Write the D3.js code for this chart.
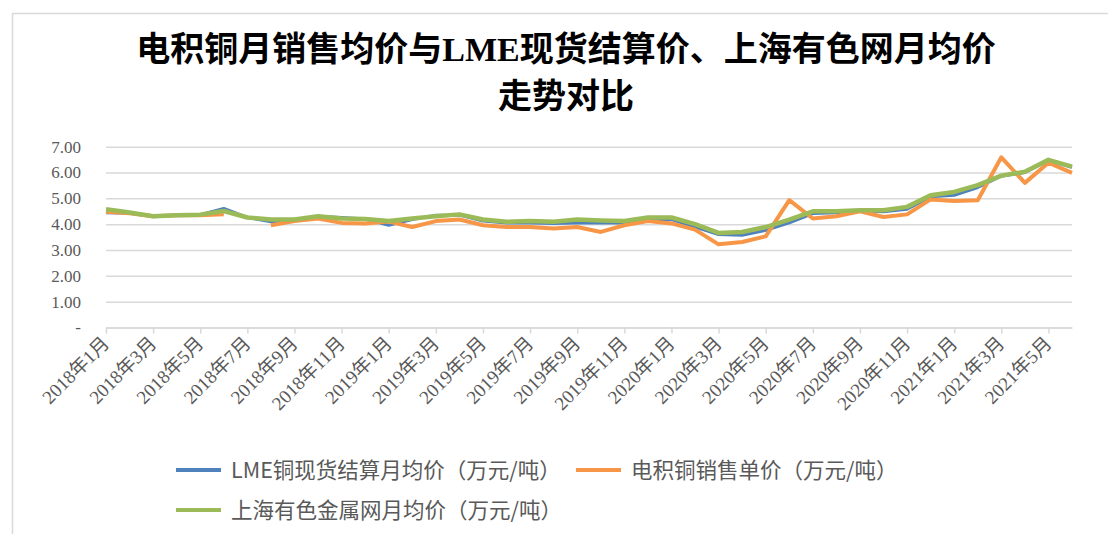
<!DOCTYPE html>
<html>
<head>
<meta charset="utf-8">
<script src="https://cdn.jsdelivr.net/npm/d3@7"></script>
<style>
  body { margin: 0; background: #fff; }
  svg { display: block; }
</style>
</head>
<body>
<script>
const months = [
  "2018年1月", "2018年2月", "2018年3月", "2018年4月", "2018年5月", "2018年6月",
  "2018年7月", "2018年8月", "2018年9月", "2018年10月", "2018年11月", "2018年12月",
  "2019年1月", "2019年2月", "2019年3月", "2019年4月", "2019年5月", "2019年6月",
  "2019年7月", "2019年8月", "2019年9月", "2019年10月", "2019年11月", "2019年12月",
  "2020年1月", "2020年2月", "2020年3月", "2020年4月", "2020年5月", "2020年6月",
  "2020年7月", "2020年8月", "2020年9月", "2020年10月", "2020年11月", "2020年12月",
  "2021年1月", "2021年2月", "2021年3月", "2021年4月", "2021年5月", "2021年6月"
];

// LME铜现货结算月均价（万元/吨）
const lme = [
  4.44, 4.42, 4.31, 4.35, 4.37, 4.61, 4.26, 4.09, 4.15, 4.31, 4.26, 4.20,
  3.96, 4.18, 4.35, 4.35, 4.12, 4.05, 4.05, 4.03, 4.05, 4.05, 4.05, 4.15,
  4.18, 3.89, 3.60, 3.57, 3.76, 4.05, 4.41, 4.44, 4.52, 4.48, 4.58, 5.06,
  5.12, 5.42, 5.86, 6.00, 6.46, 6.20
];

// 电积铜销售单价（万元/吨），2018年7月无数据
const sales = [
  4.48, 4.42, 4.31, 4.35, 4.35, 4.38, null, 3.96, 4.12, 4.22, 4.05, 4.03,
  4.10, 3.89, 4.12, 4.18, 3.96, 3.89, 3.89, 3.83, 3.89, 3.70, 3.96, 4.12,
  4.03, 3.79, 3.22, 3.31, 3.53, 4.93, 4.22, 4.31, 4.50, 4.28, 4.38, 4.96,
  4.90, 4.93, 6.59, 5.60, 6.38, 5.99
];

// 上海有色金属网月均价（万元/吨）
const smm = [
  4.58, 4.45, 4.31, 4.35, 4.37, 4.51, 4.26, 4.18, 4.18, 4.31, 4.22, 4.20,
  4.12, 4.22, 4.31, 4.38, 4.18, 4.09, 4.12, 4.09, 4.18, 4.14, 4.12, 4.26,
  4.26, 4.00, 3.66, 3.70, 3.89, 4.18, 4.50, 4.50, 4.54, 4.54, 4.67, 5.12,
  5.25, 5.51, 5.88, 6.03, 6.49, 6.23
];

const yTicks = [0, 1, 2, 3, 4, 5, 6, 7];

const series = [
  { name: "LME铜现货结算月均价（万元/吨）", values: lme, color: "#4f81bd", width: 3 },
  { name: "电积铜销售单价（万元/吨）", values: sales, color: "#f79646", width: 4 },
  { name: "上海有色金属网月均价（万元/吨）", values: smm, color: "#9bbb59", width: 4.5 }
];

const width = 1108,
  height = 534;

const plot = { left: 106, right: 1072, top: 146.7, bottom: 327.5 };

const svg = d3.select("body")
  .append("svg")
    .attr("width", width)
    .attr("height", height);

// chart frame
svg.append("rect")
    .attr("x", 12.5)
    .attr("y", 13.5)
    .attr("width", width)
    .attr("height", height)
    .attr("fill", "none")
    .attr("stroke", "#d9d9d9")
    .attr("stroke-width", 1.5);

// title
const title = svg.append("text")
    .attr("text-anchor", "middle")
    .attr("font-family", "'Liberation Serif', 'Noto Sans CJK SC', serif")
    .attr("font-weight", "bold")
    .attr("font-size", 34)
    .attr("fill", "#000");

title.append("tspan").attr("x", 566).attr("y", 61).text("电积铜月销售均价与LME现货结算价、上海有色网月均价");
title.append("tspan").attr("x", 566).attr("y", 108).text("走势对比");

const x = d3.scalePoint()
  .domain(months)
  .range([plot.left, plot.right]);

const y = d3.scaleLinear()
  .domain([0, 7])
  .range([plot.bottom, plot.top]);

// y axis with gridlines
const yAxis = svg.append("g")
    .attr("transform", "translate(" + plot.left + ",0)")
    .call(d3.axisLeft(y)
      .tickValues(yTicks)
      .tickSize(-(plot.right - plot.left))
      .tickPadding(25)
      .tickFormat(d => d === 0 ? "-" : d.toFixed(2)));

yAxis.select(".domain").remove();
yAxis.selectAll(".tick line")
    .attr("stroke", "#d9d9d9")
    .attr("stroke-width", 1.5);
yAxis.selectAll(".tick text")
    .attr("font-family", "'Liberation Serif', serif")
    .attr("font-size", 17)
    .attr("fill", "#595959");

// x axis
const xAxis = svg.append("g")
    .attr("transform", "translate(0," + plot.bottom + ")")
    .call(d3.axisBottom(x)
      .tickValues(months.filter((d, i) => i % 2 === 0))
      .tickSize(6)
      .tickSizeOuter(0));

xAxis.select(".domain")
    .attr("stroke", "#d9d9d9")
    .attr("stroke-width", 1.5);
xAxis.selectAll(".tick line")
    .attr("stroke", "#d9d9d9")
    .attr("stroke-width", 1.5);
xAxis.selectAll(".tick text")
    .attr("font-family", "'Liberation Serif', 'Noto Sans CJK SC', serif")
    .attr("font-size", 19)
    .attr("fill", "#595959")
    .attr("text-anchor", "end")
    .attr("dy", null)
    .attr("y", 0)
    .attr("transform", "translate(4,17) rotate(-45)");

// lines
const line = d3.line()
  .defined(d => d.v != null)
  .x(d => x(d.m))
  .y(d => y(d.v));

svg.append("g")
  .selectAll("path")
  .data(series)
  .join("path")
    .attr("fill", "none")
    .attr("stroke", d => d.color)
    .attr("stroke-width", d => d.width)
    .attr("stroke-linejoin", "round")
    .attr("d", d => line(d.values.map((v, i) => ({ m: months[i], v: v }))));

// legend
const legendPos = [[176, 470], [576, 470], [176, 510]];

const legend = svg.append("g")
  .selectAll("g")
  .data(series)
  .join("g")
    .attr("transform", (d, i) => "translate(" + legendPos[i][0] + "," + legendPos[i][1] + ")");

legend.append("line")
    .attr("x1", 0)
    .attr("x2", 45)
    .attr("stroke", d => d.color)
    .attr("stroke-width", 4);

legend.append("text")
    .attr("x", 55)
    .attr("dy", "0.35em")
    .attr("font-family", "'Noto Sans CJK SC', 'Noto Sans', sans-serif")
    .attr("font-size", 21.5)
    .attr("fill", "#595959")
    .text(d => d.name);
</script>
</body>
</html>
